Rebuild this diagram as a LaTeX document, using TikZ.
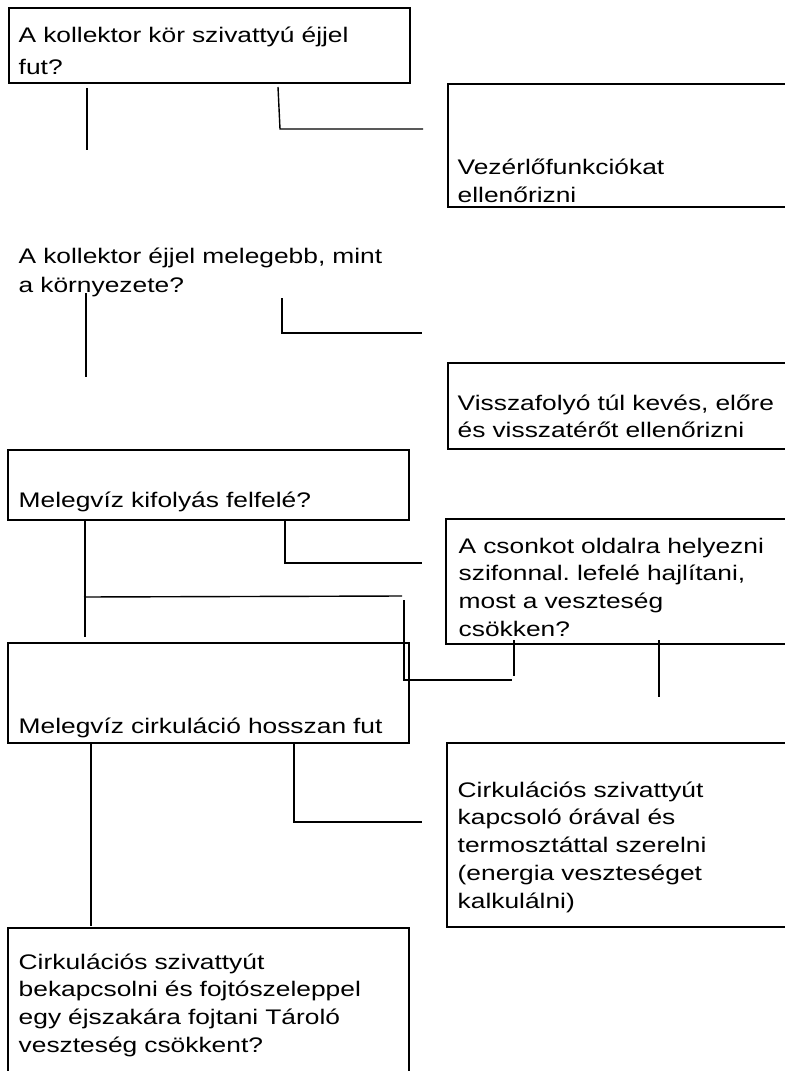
\documentclass[tikz,border=0pt]{standalone}
\usepackage{fontspec}
\setmainfont{Liberation Sans}[FakeStretch=1.25]
\usepackage {tikz}
\usetikzlibrary {positioning}
\frenchspacing

\begin{document}
\begin{tikzpicture}[x=0.02cm, y=-0.02cm, line width=0.8pt,
  box/.style ={ rectangle, draw, black, line width=1.1pt, anchor=north west,
  inner sep=0pt, minimum width = 8.02 cm},
  rbox/.style ={ box, minimum width = 6.9 cm},
  txt/.style ={ anchor=base west, inner sep=0pt, text width=8.2cm, align=left,
  font=\fontsize{12}{15.8}\selectfont}]
  \useasboundingbox (0,0) rectangle (784,1071);

  \node[box, minimum height = 1.5 cm] (pump) at (8,7) {};
  \node[txt, font=\fontsize{12}{18.2}\selectfont] (pumptxt) at (18,43)
  {A kollektor kör szivattyú éjjel\\fut?};
  \node[rbox, minimum height = 2.46 cm] (ctrl) at (447,83) {};
  \node[txt] (ctrltxt) at (457,175) {Vezérlőfunkciókat\\ellenőrizni};

  \node[txt, font=\fontsize{12}{17}\selectfont] (warm) at (18,263)
  {A kollektor éjjel melegebb, mint\\a környezete?};
  \node[rbox, minimum height = 1.72 cm] (back) at (447,362) {};
  \node[txt] (backtxt) at (457,410)
  {Visszafolyó túl kevés, előre\\és visszatérőt ellenőrizni};

  \node[box, minimum height = 1.4 cm] (up) at (7,449) {};
  \node[txt] (uptxt) at (18,507) {Melegvíz kifolyás felfelé?};
  \node[rbox, minimum height = 2.5 cm] (stub) at (445,518) {};
  \node[txt] (stubtxt) at (458,553)
  {A csonkot oldalra helyezni\\szifonnal. lefelé hajlítani,\\most a veszteség\\csökken?};

  \node[box, minimum height = 2.0 cm] (circ) at (7,642) {};
  \node[txt] (circtxt) at (18,733) {Melegvíz cirkuláció hosszan fut};
  \node[rbox, minimum height = 3.68 cm] (clock) at (446,742) {};
  \node[txt] (clocktxt) at (457,797)
  {Cirkulációs szivattyút\\kapcsoló órával és\\termosztáttal szerelni\\(energia veszteséget\\kalkulálni)};
  \node[box, minimum height = 3.06 cm] (valve) at (7,927) {};
  \node[txt] (valvetxt) at (18,969)
  {Cirkulációs szivattyút\\bekapcsolni és fojtószeleppel\\egy éjszakára fojtani Tároló\\veszteség csökkent?};

  \coordinate (p1) at (87,88);   \coordinate (p2) at (87,150);
  \coordinate (p3) at (278,87);  \coordinate (p4) at (280,129);
  \coordinate (p5) at (423,129);
  \coordinate (w1) at (86,293);  \coordinate (w2) at (86,377);
  \coordinate (w3) at (282,298); \coordinate (w4) at (282,333);
  \coordinate (w5) at (422,333);
  \coordinate (u1) at (85,519);  \coordinate (u2) at (85,637);
  \coordinate (u3) at (285,520); \coordinate (u4) at (285,563);
  \coordinate (u5) at (422,563);
  \coordinate (x1) at (84,597);  \coordinate (x2) at (402,596);
  \coordinate (x3) at (404,600); \coordinate (x4) at (404,680);
  \coordinate (x5) at (512,680);
  \coordinate (s1) at (514,640); \coordinate (s2) at (514,676);
  \coordinate (s3) at (659,640); \coordinate (s4) at (659,697);
  \coordinate (c1) at (91,742);  \coordinate (c2) at (91,926);
  \coordinate (c3) at (294,742); \coordinate (c4) at (294,822);
  \coordinate (c5) at (422,822);

  \draw (p1) -- (p2);
  \draw (p3) -- (p4) -- (p5);
  \draw (w1) -- (w2);
  \draw (w3) -- (w4) -- (w5);
  \draw (u1) -- (u2);
  \draw (u3) -- (u4) -- (u5);
  \draw (x1) -- (x2);
  \draw (x3) -- (x4) -- (x5);
  \draw (s1) -- (s2);
  \draw (s3) -- (s4);
  \draw (c1) -- (c2);
  \draw (c3) -- (c4) -- (c5);
\end{tikzpicture}
\end{document}
